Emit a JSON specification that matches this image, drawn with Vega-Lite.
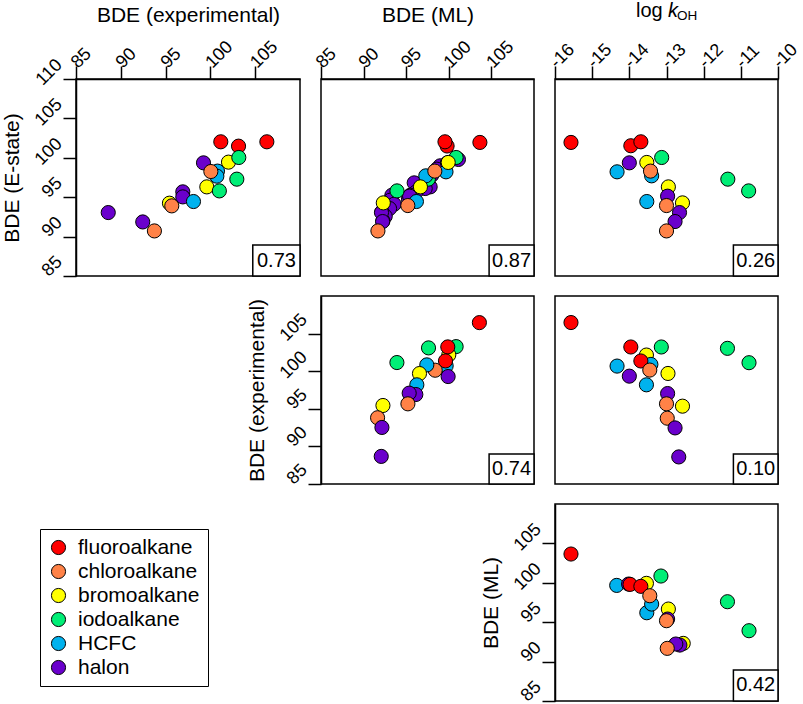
{
  "$schema": "https://vega.github.io/schema/vega-lite/v6.json",
  "padding": {"left": 0, "top": 0, "right": 5, "bottom": 0},
  "datasets": {
    "p11": [
      {"x": 88.6, "y": 93.05, "c": "halon"},
      {"x": 92.45, "y": 91.86, "c": "halon"},
      {"x": 93.75, "y": 90.72, "c": "chloroalkane"},
      {"x": 95.43, "y": 94.24, "c": "bromoalkane"},
      {"x": 95.69, "y": 93.9, "c": "chloroalkane"},
      {"x": 96.92, "y": 95.68, "c": "halon"},
      {"x": 96.92, "y": 95.04, "c": "halon"},
      {"x": 98.11, "y": 94.45, "c": "HCFC"},
      {"x": 99.23, "y": 99.36, "c": "halon"},
      {"x": 100.79, "y": 98.31, "c": "HCFC"},
      {"x": 100.72, "y": 97.67, "c": "HCFC"},
      {"x": 100.05, "y": 98.26, "c": "chloroalkane"},
      {"x": 99.6, "y": 96.31, "c": "bromoalkane"},
      {"x": 101.0, "y": 95.8, "c": "iodoalkane"},
      {"x": 101.16, "y": 102.03, "c": "fluoroalkane"},
      {"x": 103.14, "y": 101.48, "c": "fluoroalkane"},
      {"x": 102.02, "y": 99.45, "c": "bromoalkane"},
      {"x": 103.17, "y": 100.04, "c": "iodoalkane"},
      {"x": 102.95, "y": 97.29, "c": "iodoalkane"},
      {"x": 106.3, "y": 102.03, "c": "fluoroalkane"}
    ],
    "p12": [
      {"x": 101.13, "y": 99.79, "c": "halon"},
      {"x": 98.98, "y": 98.98, "c": "halon"},
      {"x": 98.59, "y": 98.56, "c": "halon"},
      {"x": 98.0, "y": 97.8, "c": "halon"},
      {"x": 97.42, "y": 96.95, "c": "halon"},
      {"x": 97.81, "y": 96.31, "c": "halon"},
      {"x": 97.23, "y": 96.1, "c": "halon"},
      {"x": 95.94, "y": 96.82, "c": "halon"},
      {"x": 96.17, "y": 95.68, "c": "halon"},
      {"x": 95.47, "y": 95.25, "c": "halon"},
      {"x": 95.27, "y": 94.75, "c": "halon"},
      {"x": 93.32, "y": 95.25, "c": "halon"},
      {"x": 93.13, "y": 94.62, "c": "halon"},
      {"x": 93.59, "y": 94.11, "c": "halon"},
      {"x": 93.05, "y": 93.56, "c": "halon"},
      {"x": 92.15, "y": 93.14, "c": "halon"},
      {"x": 92.54, "y": 92.58, "c": "halon"},
      {"x": 92.27, "y": 91.99, "c": "halon"},
      {"x": 99.84, "y": 99.36, "c": "halon"},
      {"x": 95.4, "y": 95.13, "c": "halon"},
      {"x": 92.1, "y": 93.05, "c": "halon"},
      {"x": 92.23, "y": 91.91, "c": "halon"},
      {"x": 97.6, "y": 97.29, "c": "iodoalkane"},
      {"x": 93.92, "y": 95.8, "c": "iodoalkane"},
      {"x": 100.86, "y": 100.04, "c": "iodoalkane"},
      {"x": 99.67, "y": 98.22, "c": "HCFC"},
      {"x": 97.3, "y": 97.71, "c": "HCFC"},
      {"x": 96.2, "y": 94.45, "c": "HCFC"},
      {"x": 99.93, "y": 99.41, "c": "bromoalkane"},
      {"x": 96.67, "y": 96.31, "c": "bromoalkane"},
      {"x": 92.31, "y": 94.28, "c": "bromoalkane"},
      {"x": 98.36, "y": 98.31, "c": "chloroalkane"},
      {"x": 95.19, "y": 93.94, "c": "chloroalkane"},
      {"x": 91.68, "y": 90.72, "c": "chloroalkane"},
      {"x": 103.65, "y": 101.95, "c": "fluoroalkane"},
      {"x": 99.8, "y": 101.5, "c": "fluoroalkane"},
      {"x": 99.55, "y": 102.03, "c": "fluoroalkane"}
    ],
    "p13": [
      {"x": -15.57, "y": 101.95, "c": "fluoroalkane"},
      {"x": -13.96, "y": 101.53, "c": "fluoroalkane"},
      {"x": -13.69, "y": 102.03, "c": "fluoroalkane"},
      {"x": -14.0, "y": 99.36, "c": "halon"},
      {"x": -14.33, "y": 98.22, "c": "HCFC"},
      {"x": -13.53, "y": 99.41, "c": "bromoalkane"},
      {"x": -13.13, "y": 100.04, "c": "iodoalkane"},
      {"x": -13.4, "y": 97.71, "c": "HCFC"},
      {"x": -13.43, "y": 98.31, "c": "chloroalkane"},
      {"x": -12.95, "y": 96.31, "c": "bromoalkane"},
      {"x": -12.97, "y": 95.13, "c": "halon"},
      {"x": -13.53, "y": 94.45, "c": "HCFC"},
      {"x": -12.57, "y": 94.28, "c": "bromoalkane"},
      {"x": -13.0, "y": 93.94, "c": "chloroalkane"},
      {"x": -12.65, "y": 93.05, "c": "halon"},
      {"x": -12.77, "y": 91.91, "c": "halon"},
      {"x": -13.0, "y": 90.72, "c": "chloroalkane"},
      {"x": -11.35, "y": 97.29, "c": "iodoalkane"},
      {"x": -10.79, "y": 95.8, "c": "iodoalkane"}
    ],
    "p22": [
      {"x": 100.86, "y": 103.27, "c": "iodoalkane"},
      {"x": 93.91, "y": 101.15, "c": "iodoalkane"},
      {"x": 97.62, "y": 103.1, "c": "iodoalkane"},
      {"x": 100.0, "y": 102.17, "c": "bromoalkane"},
      {"x": 99.69, "y": 100.71, "c": "HCFC"},
      {"x": 99.88, "y": 103.23, "c": "fluoroalkane"},
      {"x": 99.61, "y": 101.37, "c": "fluoroalkane"},
      {"x": 103.59, "y": 106.46, "c": "fluoroalkane"},
      {"x": 98.4, "y": 100.13, "c": "chloroalkane"},
      {"x": 97.42, "y": 100.84, "c": "HCFC"},
      {"x": 96.56, "y": 99.69, "c": "bromoalkane"},
      {"x": 99.92, "y": 99.29, "c": "halon"},
      {"x": 96.25, "y": 98.19, "c": "HCFC"},
      {"x": 96.13, "y": 96.9, "c": "halon"},
      {"x": 95.35, "y": 97.08, "c": "halon"},
      {"x": 95.2, "y": 95.66, "c": "chloroalkane"},
      {"x": 92.27, "y": 95.44, "c": "bromoalkane"},
      {"x": 91.64, "y": 93.81, "c": "chloroalkane"},
      {"x": 92.15, "y": 92.52, "c": "halon"},
      {"x": 92.07, "y": 88.67, "c": "halon"}
    ],
    "p23": [
      {"x": -15.57, "y": 106.47, "c": "fluoroalkane"},
      {"x": -13.96, "y": 103.22, "c": "fluoroalkane"},
      {"x": -13.14, "y": 103.22, "c": "iodoalkane"},
      {"x": -13.54, "y": 102.15, "c": "bromoalkane"},
      {"x": -13.42, "y": 100.9, "c": "HCFC"},
      {"x": -13.69, "y": 101.36, "c": "fluoroalkane"},
      {"x": -13.45, "y": 100.15, "c": "chloroalkane"},
      {"x": -14.33, "y": 100.68, "c": "HCFC"},
      {"x": -14.0, "y": 99.34, "c": "halon"},
      {"x": -12.96, "y": 99.7, "c": "bromoalkane"},
      {"x": -13.54, "y": 98.19, "c": "HCFC"},
      {"x": -12.97, "y": 97.03, "c": "halon"},
      {"x": -13.0, "y": 95.66, "c": "chloroalkane"},
      {"x": -12.57, "y": 95.35, "c": "bromoalkane"},
      {"x": -12.98, "y": 93.75, "c": "chloroalkane"},
      {"x": -12.77, "y": 92.46, "c": "halon"},
      {"x": -12.67, "y": 88.6, "c": "halon"},
      {"x": -11.36, "y": 103.04, "c": "iodoalkane"},
      {"x": -10.78, "y": 101.13, "c": "iodoalkane"}
    ],
    "p33": [
      {"x": -15.57, "y": 103.65, "c": "fluoroalkane"},
      {"x": -14.34, "y": 99.67, "c": "HCFC"},
      {"x": -14.02, "y": 99.84, "c": "halon"},
      {"x": -13.98, "y": 99.8, "c": "fluoroalkane"},
      {"x": -13.54, "y": 99.93, "c": "bromoalkane"},
      {"x": -13.69, "y": 99.55, "c": "fluoroalkane"},
      {"x": -13.15, "y": 100.86, "c": "iodoalkane"},
      {"x": -13.53, "y": 96.2, "c": "HCFC"},
      {"x": -13.4, "y": 97.3, "c": "HCFC"},
      {"x": -13.45, "y": 98.36, "c": "chloroalkane"},
      {"x": -12.95, "y": 96.67, "c": "bromoalkane"},
      {"x": -12.97, "y": 95.4, "c": "halon"},
      {"x": -13.0, "y": 95.19, "c": "chloroalkane"},
      {"x": -12.55, "y": 92.31, "c": "bromoalkane"},
      {"x": -12.64, "y": 92.1, "c": "halon"},
      {"x": -12.75, "y": 92.23, "c": "halon"},
      {"x": -12.98, "y": 91.68, "c": "chloroalkane"},
      {"x": -11.36, "y": 97.6, "c": "iodoalkane"},
      {"x": -10.78, "y": 93.92, "c": "iodoalkane"}
    ]
  },
  "concat": [
    {
      "width": 224, "height": 197,
      "layer": [
        {
          "data": {"name": "p11"},
          "mark": {"type": "point", "filled": true, "size": 200, "stroke": "black", "strokeWidth": 1, "opacity": 1},
          "encoding": {
            "x": {"field": "x", "type": "quantitative", "scale": {"domain": [85, 110], "nice": false, "zero": false},
                  "axis": {"orient": "top", "values": [85, 90, 95, 100, 105], "title": "BDE (experimental)", "labelAlign": "left", "labelBaseline": "middle", "labelPadding": 1, "labelOffset": -2, "titlePadding": 12,
                           "encode": {"labels": {"update": {"angle": {"value": -45}}}}}},
            "y": {"field": "y", "type": "quantitative", "scale": {"domain": [85, 110], "nice": false, "zero": false},
                  "axis": {"orient": "left", "values": [85, 90, 95, 100, 105, 110], "title": "BDE (E-state)", "labelAlign": "right", "labelBaseline": "middle", "labelPadding": 4, "labelOffset": -17, "titlePadding": 9}},
            "color": {"field": "c", "type": "nominal",
                      "scale": {"domain": ["fluoroalkane", "chloroalkane", "bromoalkane", "iodoalkane", "HCFC", "halon"], "range": ["#FF0000", "#FF8247", "#FFFF00", "#00EE76", "#00B2EE", "#6A00CC"]},
                      "legend": {"title": null, "orient": "none", "legendX": -36, "legendY": 450}}
          }
        },
        {
          "data": {"values": [{"r": "0.73"}]},
          "mark": {"type": "rect", "fill": "white", "stroke": "black", "strokeWidth": 1.5},
          "encoding": {"x": {"datum": 104.73}, "x2": {"datum": 110}, "y": {"datum": 88.93}, "y2": {"datum": 85}}
        },
        {
          "data": {"values": [{"r": "0.73"}]},
          "mark": {"type": "text", "fontSize": 20, "align": "center", "baseline": "middle"},
          "encoding": {"x": {"datum": 107.37}, "y": {"datum": 86.95}, "text": {"field": "r"}}
        }
      ]
    },
    {
      "width": 213, "height": 197,
      "layer": [
        {
          "data": {"name": "p12"},
          "mark": {"type": "point", "filled": true, "size": 200, "stroke": "black", "strokeWidth": 1, "opacity": 1},
          "encoding": {
            "x": {"field": "x", "type": "quantitative", "scale": {"domain": [85, 110], "nice": false, "zero": false},
                  "axis": {"orient": "top", "values": [85, 90, 95, 100, 105], "title": "BDE (ML)", "labelAlign": "left", "labelBaseline": "middle", "labelPadding": 1, "labelOffset": -2, "titlePadding": 12,
                           "encode": {"labels": {"update": {"angle": {"value": -45}}}}}},
            "y": {"field": "y", "type": "quantitative", "scale": {"domain": [85, 110], "nice": false, "zero": false}, "axis": null},
            "color": {"field": "c", "type": "nominal",
                      "scale": {"domain": ["fluoroalkane", "chloroalkane", "bromoalkane", "iodoalkane", "HCFC", "halon"], "range": ["#FF0000", "#FF8247", "#FFFF00", "#00EE76", "#00B2EE", "#6A00CC"]},
                      "legend": {"title": null, "orient": "none", "legendX": -36, "legendY": 450}}
          }
        },
        {
          "data": {"values": [{"r": "0.87"}]},
          "mark": {"type": "rect", "fill": "white", "stroke": "black", "strokeWidth": 1.5},
          "encoding": {"x": {"datum": 104.73}, "x2": {"datum": 110}, "y": {"datum": 88.93}, "y2": {"datum": 85}}
        },
        {
          "data": {"values": [{"r": "0.87"}]},
          "mark": {"type": "text", "fontSize": 20, "align": "center", "baseline": "middle"},
          "encoding": {"x": {"datum": 107.37}, "y": {"datum": 86.95}, "text": {"field": "r"}}
        }
      ]
    },
    {
      "width": 223, "height": 197,
      "layer": [
        {
          "data": {"name": "p13"},
          "mark": {"type": "point", "filled": true, "size": 200, "stroke": "black", "strokeWidth": 1, "opacity": 1},
          "encoding": {
            "x": {"field": "x", "type": "quantitative", "scale": {"domain": [-16, -10], "nice": false, "zero": false},
                  "axis": {"orient": "top", "values": [-16, -15, -14, -13, -12, -11, -10], "title": null, "labelExpr": "'' + datum.value", "labelAlign": "left", "labelBaseline": "middle", "labelPadding": 1, "labelOffset": -2,
                           "encode": {"labels": {"update": {"angle": {"value": -45}}}}}},
            "y": {"field": "y", "type": "quantitative", "scale": {"domain": [85, 110], "nice": false, "zero": false}, "axis": null},
            "color": {"field": "c", "type": "nominal",
                      "scale": {"domain": ["fluoroalkane", "chloroalkane", "bromoalkane", "iodoalkane", "HCFC", "halon"], "range": ["#FF0000", "#FF8247", "#FFFF00", "#00EE76", "#00B2EE", "#6A00CC"]},
                      "legend": {"title": null, "orient": "none", "legendX": -36, "legendY": 450}}
          }
        },
        {
          "data": {"values": [{"r": "0.26"}]},
          "mark": {"type": "rect", "fill": "white", "stroke": "black", "strokeWidth": 1.5},
          "encoding": {"x": {"datum": -11.2}, "x2": {"datum": -10}, "y": {"datum": 88.93}, "y2": {"datum": 85}}
        },
        {
          "data": {"values": [{"r": "0.26"}]},
          "mark": {"type": "text", "fontSize": 20, "align": "center", "baseline": "middle"},
          "encoding": {"x": {"datum": -10.6}, "y": {"datum": 86.95}, "text": {"field": "r"}}
        },
        {
          "data": {"values": [{"t": "log"}]},
          "mark": {"type": "text", "fontSize": 20, "align": "left", "baseline": "alphabetic"},
          "encoding": {"x": {"datum": -13.82}, "y": {"datum": 117.87}, "text": {"field": "t"}}
        },
        {
          "data": {"values": [{"t": "k"}]},
          "mark": {"type": "text", "fontSize": 20, "fontStyle": "italic", "align": "left", "baseline": "alphabetic"},
          "encoding": {"x": {"datum": -12.96}, "y": {"datum": 117.87}, "text": {"field": "t"}}
        },
        {
          "data": {"values": [{"t": "OH"}]},
          "mark": {"type": "text", "fontSize": 13.5, "align": "left", "baseline": "alphabetic"},
          "encoding": {"x": {"datum": -12.72}, "y": {"datum": 117.45}, "text": {"field": "t"}}
        }
      ]
    },
    {
      "width": 224, "height": 188,
      "data": {"values": []},
      "mark": "point",
      "encoding": {},
      "view": {"stroke": null}
    },
    {
      "width": 213, "height": 188,
      "layer": [
        {
          "data": {"name": "p22"},
          "mark": {"type": "point", "filled": true, "size": 200, "stroke": "black", "strokeWidth": 1, "opacity": 1},
          "encoding": {
            "x": {"field": "x", "type": "quantitative", "scale": {"domain": [85, 110], "nice": false, "zero": false}, "axis": null},
            "y": {"field": "y", "type": "quantitative", "scale": {"domain": [85, 110], "nice": false, "zero": false},
                  "axis": {"orient": "left", "values": [85, 90, 95, 100, 105], "title": "BDE (experimental)", "labelAlign": "right", "labelBaseline": "middle", "labelPadding": 4, "labelOffset": -17, "titlePadding": 9}},
            "color": {"field": "c", "type": "nominal",
                      "scale": {"domain": ["fluoroalkane", "chloroalkane", "bromoalkane", "iodoalkane", "HCFC", "halon"], "range": ["#FF0000", "#FF8247", "#FFFF00", "#00EE76", "#00B2EE", "#6A00CC"]},
                      "legend": {"title": null, "orient": "none", "legendX": -36, "legendY": 450}}
          }
        },
        {
          "data": {"values": [{"r": "0.74"}]},
          "mark": {"type": "rect", "fill": "white", "stroke": "black", "strokeWidth": 1.5},
          "encoding": {"x": {"datum": 104.73}, "x2": {"datum": 110}, "y": {"datum": 89.0}, "y2": {"datum": 85}}
        },
        {
          "data": {"values": [{"r": "0.74"}]},
          "mark": {"type": "text", "fontSize": 20, "align": "center", "baseline": "middle"},
          "encoding": {"x": {"datum": 107.37}, "y": {"datum": 87.0}, "text": {"field": "r"}}
        }
      ]
    },
    {
      "width": 223, "height": 188,
      "layer": [
        {
          "data": {"name": "p23"},
          "mark": {"type": "point", "filled": true, "size": 200, "stroke": "black", "strokeWidth": 1, "opacity": 1},
          "encoding": {
            "x": {"field": "x", "type": "quantitative", "scale": {"domain": [-16, -10], "nice": false, "zero": false}, "axis": null},
            "y": {"field": "y", "type": "quantitative", "scale": {"domain": [85, 110], "nice": false, "zero": false}, "axis": null},
            "color": {"field": "c", "type": "nominal",
                      "scale": {"domain": ["fluoroalkane", "chloroalkane", "bromoalkane", "iodoalkane", "HCFC", "halon"], "range": ["#FF0000", "#FF8247", "#FFFF00", "#00EE76", "#00B2EE", "#6A00CC"]},
                      "legend": {"title": null, "orient": "none", "legendX": -36, "legendY": 450}}
          }
        },
        {
          "data": {"values": [{"r": "0.10"}]},
          "mark": {"type": "rect", "fill": "white", "stroke": "black", "strokeWidth": 1.5},
          "encoding": {"x": {"datum": -11.2}, "x2": {"datum": -10}, "y": {"datum": 89.0}, "y2": {"datum": 85}}
        },
        {
          "data": {"values": [{"r": "0.10"}]},
          "mark": {"type": "text", "fontSize": 20, "align": "center", "baseline": "middle"},
          "encoding": {"x": {"datum": -10.6}, "y": {"datum": 87.0}, "text": {"field": "r"}}
        }
      ]
    },
    {
      "width": 224, "height": 197,
      "data": {"values": []},
      "mark": "point",
      "encoding": {},
      "view": {"stroke": null}
    },
    {
      "width": 213, "height": 197,
      "data": {"values": []},
      "mark": "point",
      "encoding": {},
      "view": {"stroke": null}
    },
    {
      "width": 223, "height": 197,
      "layer": [
        {
          "data": {"name": "p33"},
          "mark": {"type": "point", "filled": true, "size": 200, "stroke": "black", "strokeWidth": 1, "opacity": 1},
          "encoding": {
            "x": {"field": "x", "type": "quantitative", "scale": {"domain": [-16, -10], "nice": false, "zero": false}, "axis": null},
            "y": {"field": "y", "type": "quantitative", "scale": {"domain": [85, 110], "nice": false, "zero": false},
                  "axis": {"orient": "left", "values": [85, 90, 95, 100, 105], "title": "BDE (ML)", "labelAlign": "right", "labelBaseline": "middle", "labelPadding": 4, "labelOffset": -17, "titlePadding": 9}},
            "color": {"field": "c", "type": "nominal",
                      "scale": {"domain": ["fluoroalkane", "chloroalkane", "bromoalkane", "iodoalkane", "HCFC", "halon"], "range": ["#FF0000", "#FF8247", "#FFFF00", "#00EE76", "#00B2EE", "#6A00CC"]},
                      "legend": {"title": null, "orient": "none", "legendX": -36, "legendY": 450}}
          }
        },
        {
          "data": {"values": [{"r": "0.42"}]},
          "mark": {"type": "rect", "fill": "white", "stroke": "black", "strokeWidth": 1.5},
          "encoding": {"x": {"datum": -11.2}, "x2": {"datum": -10}, "y": {"datum": 88.94}, "y2": {"datum": 85}}
        },
        {
          "data": {"values": [{"r": "0.42"}]},
          "mark": {"type": "text", "fontSize": 20, "align": "center", "baseline": "middle"},
          "encoding": {"x": {"datum": -10.6}, "y": {"datum": 86.97}, "text": {"field": "r"}}
        }
      ]
    }
  ],
  "columns": 3,
  "align": "each",
  "bounds": "flush",
  "spacing": {"row": 20, "column": 21},
  "config": {
    "font": "Liberation Sans",
    "view": {"stroke": "black", "strokeWidth": 1.5},
    "text": {"font": "Liberation Sans", "color": "black"},
    "axis": {
      "grid": false,
      "labelAngle": -45,
      "labelOverlap": false,
      "labelFlush": false,
      "tickCount": 20,
      "labelFont": "Liberation Sans", "labelFontSize": 18, "labelColor": "black",
      "titleFont": "Liberation Sans", "titleFontSize": 21, "titleFontWeight": "normal", "titleColor": "black",
      "tickColor": "black", "tickWidth": 1.5, "tickSize": 13,
      "domainColor": "black", "domainWidth": 1.5
    },
    "legend": {
      "strokeColor": "black", "padding": 8, "symbolType": "circle", "symbolSize": 200,
      "symbolStrokeColor": "black", "symbolStrokeWidth": 1, "symbolOpacity": 1,
      "labelFont": "Liberation Sans", "labelFontSize": 21, "labelColor": "black",
      "rowPadding": 2, "labelOffset": 9
    }
  }
}
